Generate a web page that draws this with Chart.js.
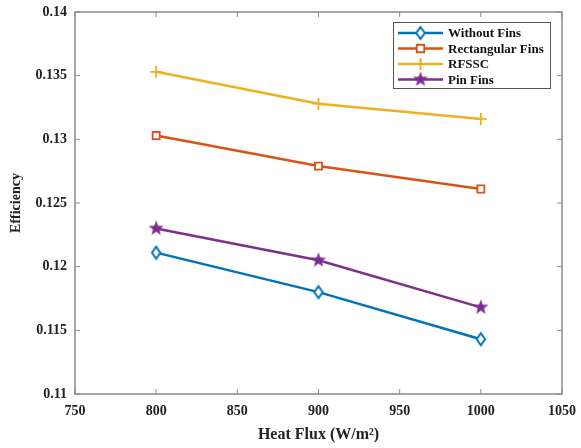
<!DOCTYPE html>
<html>
<head>
<meta charset="utf-8">
<script src="https://cdn.jsdelivr.net/npm/chart.js@4"></script>
<style>
  body { margin: 0; background: #fff; }
  #wrap { width: 581px; height: 448px; }
</style>
</head>
<body>
<div id="wrap"><canvas id="myChart" width="581" height="448"></canvas></div>
<script>
// data
var heatFlux = [800, 900, 1000];
var withoutFins = [0.1211, 0.1180, 0.1143];
var rectFins = [0.1303, 0.1279, 0.1261];
var rfssc = [0.1353, 0.1328, 0.1316];
var pinFins = [0.1230, 0.1205, 0.1168];
var xTicks = [750, 800, 850, 900, 950, 1000, 1050];
var yTicks = [0.11, 0.115, 0.12, 0.125, 0.13, 0.135, 0.14];

var FONT = "'Liberation Serif', 'Times New Roman', serif";

// filled star marker
function makeStar(color, r) {
  var c = document.createElement("canvas");
  c.width = c.height = r * 2 + 2;
  var g = c.getContext("2d");
  var cx = r + 1, cy = r + 1;
  g.beginPath();
  for (var i = 0; i < 10; i++) {
    var rad = i % 2 === 0 ? r : r * 0.42;
    var a = -Math.PI / 2 + i * Math.PI / 5;
    g.lineTo(cx + rad * Math.cos(a), cy + rad * Math.sin(a));
  }
  g.closePath();
  g.fillStyle = color;
  g.fill();
  return c;
}
var starBig = makeStar("#7E2F8E", 8);

// open diamond, taller than wide like matlab 'd'
function diamond(color, r) {
  var c = document.createElement("canvas");
  c.width = Math.ceil(r * 1.6) + 4; c.height = r * 2 + 4;
  var g = c.getContext("2d");
  var cx = c.width / 2, cy = c.height / 2;
  g.beginPath();
  g.moveTo(cx, cy - r); g.lineTo(cx + r * 0.7, cy);
  g.lineTo(cx, cy + r); g.lineTo(cx - r * 0.7, cy);
  g.closePath();
  g.fillStyle = "#fff"; g.fill();
  g.strokeStyle = color; g.lineWidth = 2; g.stroke();
  return c;
}
var diamondImg = diamond("#0072BD", 6);

function pts(ys) {
  return heatFlux.map(function (x, i) { return { x: x, y: ys[i] }; });
}

// legend drawn inside the plot, MATLAB style
var insideLegend = {
  id: "insideLegend",
  afterDraw: function (chart) {
    var ctx = chart.ctx;
    var x0 = 393, y0 = 22, w = 157, h = 66;
    ctx.save();
    ctx.fillStyle = "#fff";
    ctx.fillRect(x0, y0, w, h);
    ctx.strokeStyle = "#555";
    ctx.lineWidth = 1;
    ctx.strokeRect(x0 + 0.5, y0 + 0.5, w, h);
    ctx.font = "bold 13px " + FONT;
    ctx.textBaseline = "middle";
    chart.data.datasets.forEach(function (ds, i) {
      var y = y0 + 11 + i * 15.5;
      var mx = x0 + 27.5;
      ctx.strokeStyle = ds.borderColor;
      ctx.lineWidth = 2.5;
      ctx.beginPath();
      ctx.moveTo(x0 + 5, y);
      ctx.lineTo(x0 + 50, y);
      ctx.stroke();
      var st = ds.pointStyle;
      ctx.fillStyle = ds.pointBackgroundColor;
      ctx.strokeStyle = ds.borderColor;
      ctx.lineWidth = ds.pointBorderWidth;
      ctx.beginPath();
      if (st instanceof HTMLCanvasElement) {
        ctx.drawImage(st, mx - st.width / 2, y - st.height / 2);
      } else if (st === "rect") {
        var s = ds.pointRadius * 0.75;
        ctx.rect(mx - s, y - s, 2 * s, 2 * s); ctx.fill(); ctx.stroke();
      } else if (st === "cross") {
        var c = ds.pointRadius;
        ctx.moveTo(mx, y - c); ctx.lineTo(mx, y + c); ctx.stroke();
      }
      ctx.fillStyle = "#111";
      ctx.textAlign = "left";
      ctx.fillText(ds.label, x0 + 55, y + 1);
    });
    ctx.restore();
  }
};

// box around the plot with inward ticks
var frame = {
  id: "frame",
  beforeDatasetsDraw: function (chart) {
    var a = chart.chartArea, ctx = chart.ctx;
    var xs = chart.scales.x, ys = chart.scales.y;
    ctx.save();
    ctx.strokeStyle = "#8a8a8a";
    ctx.lineWidth = 1.5;
    ctx.strokeRect(a.left, a.top, a.right - a.left, a.bottom - a.top);
    ctx.lineWidth = 1;
    ctx.beginPath();
    xTicks.forEach(function (v) {
      var px = xs.getPixelForValue(v);
      ctx.moveTo(px, a.bottom); ctx.lineTo(px, a.bottom - 5);
      ctx.moveTo(px, a.top); ctx.lineTo(px, a.top + 5);
    });
    yTicks.forEach(function (v) {
      var py = ys.getPixelForValue(v);
      ctx.moveTo(a.left, py); ctx.lineTo(a.left + 5, py);
      ctx.moveTo(a.right, py); ctx.lineTo(a.right - 5, py);
    });
    ctx.stroke();
    ctx.restore();
  }
};

var common = { showLine: true, borderWidth: 2.5, fill: false, tension: 0 };

new Chart("myChart", {
  type: "scatter",
  data: {
    datasets: [
      Object.assign({}, common, {
        label: "Without Fins", data: pts(withoutFins),
        borderColor: "#0072BD", pointStyle: diamondImg,
        pointRadius: 6, pointBorderWidth: 2, pointBackgroundColor: "#fff"
      }),
      Object.assign({}, common, {
        label: "Rectangular Fins", data: pts(rectFins),
        borderColor: "#D95319", pointStyle: "rect",
        pointRadius: 5, pointBorderWidth: 1.8, pointBackgroundColor: "#fff"
      }),
      Object.assign({}, common, {
        label: "RFSSC", data: pts(rfssc),
        borderColor: "#EDB120", pointStyle: "cross",
        pointRadius: 6, pointBorderWidth: 1.8, pointBackgroundColor: "#EDB120"
      }),
      Object.assign({}, common, {
        label: "Pin Fins", data: pts(pinFins),
        borderColor: "#7E2F8E", pointStyle: starBig,
        pointRadius: 8, pointBorderWidth: 1, pointBackgroundColor: "#7E2F8E"
      })
    ]
  },
  options: {
    responsive: false,
    animation: false,
    layout: { padding: { top: 12, right: 19, left: 4, bottom: 0 } },
    plugins: {
      legend: { display: false },
      tooltip: { enabled: false }
    },
    scales: {
      x: {
        type: "linear", min: 750, max: 1050,
        afterBuildTicks: function (s) { s.ticks = xTicks.map(function (v) { return { value: v }; }); },
        afterFit: function (s) { s.height = 54; },
        grid: { display: false },
        border: { display: false },
        ticks: {
          color: "#222", padding: 1,
          font: { family: FONT, weight: "bold", size: 14 },
          maxRotation: 0,
          callback: function (v) { return String(v); }
        },
        title: {
          display: true, text: "Heat Flux (W/m\u00B2)", color: "#222",
          font: { family: FONT, weight: "bold", size: 16 }, padding: { top: 2 }
        }
      },
      y: {
        type: "linear", min: 0.11, max: 0.14,
        afterBuildTicks: function (s) { s.ticks = yTicks.map(function (v) { return { value: v }; }); },
        afterFit: function (s) { s.width = 71; },
        grid: { display: false },
        border: { display: false },
        ticks: {
          color: "#222", padding: 0,
          font: { family: FONT, weight: "bold", size: 14 },
          callback: function (v) { return String(+v.toFixed(3)); }
        },
        title: {
          display: true, text: "Efficiency", color: "#222",
          font: { family: FONT, weight: "bold", size: 14 }, padding: { bottom: 2 }
        }
      }
    }
  },
  plugins: [frame, insideLegend]
});
</script>
</body>
</html>
